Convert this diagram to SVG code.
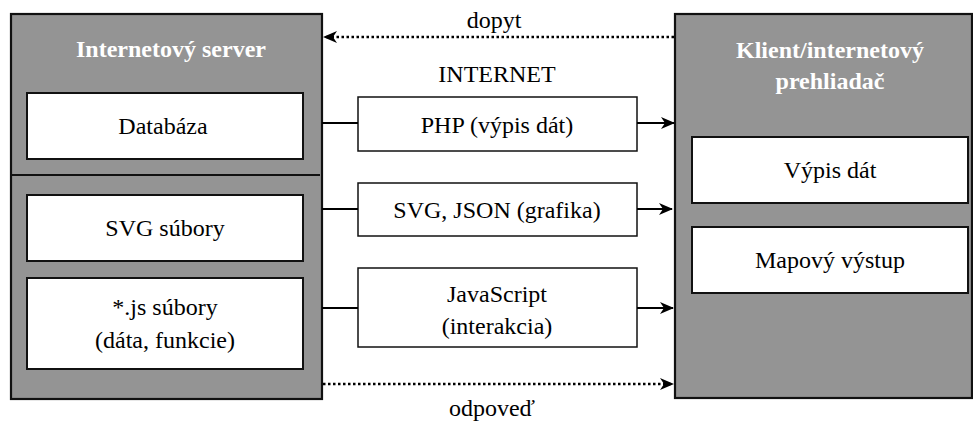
<svg xmlns="http://www.w3.org/2000/svg" width="973" height="421" viewBox="0 0 973 421">
<defs>
<marker id="ah" viewBox="0 0 14 12" refX="13" refY="6" markerWidth="14" markerHeight="12" markerUnits="userSpaceOnUse" orient="auto">
<path d="M0,0 L14,6 L0,12 L4,6 Z" fill="#000"/>
</marker>
</defs>
<style>
.outer{fill:#949494;stroke:#111;stroke-width:2.2}
.inner{fill:#fff;stroke:#111;stroke-width:2}
.mid{fill:#fff;stroke:#111;stroke-width:1.5}
text{font-family:'Liberation Serif','DejaVu Serif',serif;font-size:24px}
.t{fill:#000;text-anchor:middle}
.h{font-weight:bold;fill:#fff;text-anchor:middle;font-size:24px}
.ln{stroke:#000;stroke-width:2.2;fill:none}
.dot{stroke:#000;stroke-width:2.5;fill:none;stroke-dasharray:2.5 2.5}
</style>
<g id="server">
<rect class="outer" x="11" y="14" width="311" height="385"/>
<line x1="11" y1="175" x2="320" y2="175" stroke="#111" stroke-width="2"/>
<text class="h" x="171" y="57">Internetový server</text>
</g>
<g id="databaza">
<rect class="inner" x="27" y="93" width="276" height="66"/>
<text class="t" x="163" y="134">Databáza</text>
</g>
<g id="svg-subory">
<rect class="inner" x="27" y="195" width="276" height="66"/>
<text class="t" x="165" y="236">SVG súbory</text>
</g>
<g id="js-subory">
<rect class="inner" x="27" y="278" width="276" height="91"/>
<text class="t" x="165" y="315">*.js súbory</text>
<text class="t" x="165" y="348">(dáta, funkcie)</text>
</g>
<g id="klient">
<rect class="outer" x="675" y="14" width="297" height="384"/>
<text class="h" x="830" y="58">Klient/internetový</text>
<text class="h" x="830" y="89">prehliadač</text>
</g>
<g id="vypis-dat">
<rect class="inner" x="692" y="137" width="276" height="66"/>
<text class="t" x="830" y="178">Výpis dát</text>
</g>
<g id="mapovy-vystup">
<rect class="inner" x="692" y="227" width="276" height="66"/>
<text class="t" x="830" y="268">Mapový výstup</text>
</g>
<g id="php">
<rect class="mid" x="358" y="97" width="279" height="54"/>
<text class="t" x="497" y="133">PHP (výpis dát)</text>
</g>
<g id="svg-json">
<rect class="mid" x="358" y="183" width="279" height="53"/>
<text class="t" x="497" y="218">SVG, JSON (grafika)</text>
</g>
<g id="javascript">
<rect class="mid" x="358" y="268" width="279" height="79"/>
<text class="t" x="497" y="302">JavaScript</text>
<text class="t" x="497" y="334">(interakcia)</text>
</g>
<g id="labels">
<text class="t" x="494" y="28">dopyt</text>
<text class="t" x="497" y="82">INTERNET</text>
<text class="t" x="492" y="416">odpoveď</text>
</g>
<g id="connectors">
<line class="dot" x1="674" y1="37" x2="324" y2="37" marker-end="url(#ah)"/>
<line class="ln" x1="322" y1="123" x2="358" y2="123"/>
<line class="ln" x1="637" y1="123" x2="674" y2="123" marker-end="url(#ah)"/>
<line class="ln" x1="322" y1="209" x2="358" y2="209"/>
<line class="ln" x1="637" y1="209" x2="672" y2="209" marker-end="url(#ah)"/>
<line class="ln" x1="322" y1="308" x2="358" y2="308"/>
<line class="ln" x1="637" y1="308" x2="673" y2="308" marker-end="url(#ah)"/>
<line class="dot" x1="323" y1="384" x2="673" y2="384" marker-end="url(#ah)"/>
</g>
</svg>
